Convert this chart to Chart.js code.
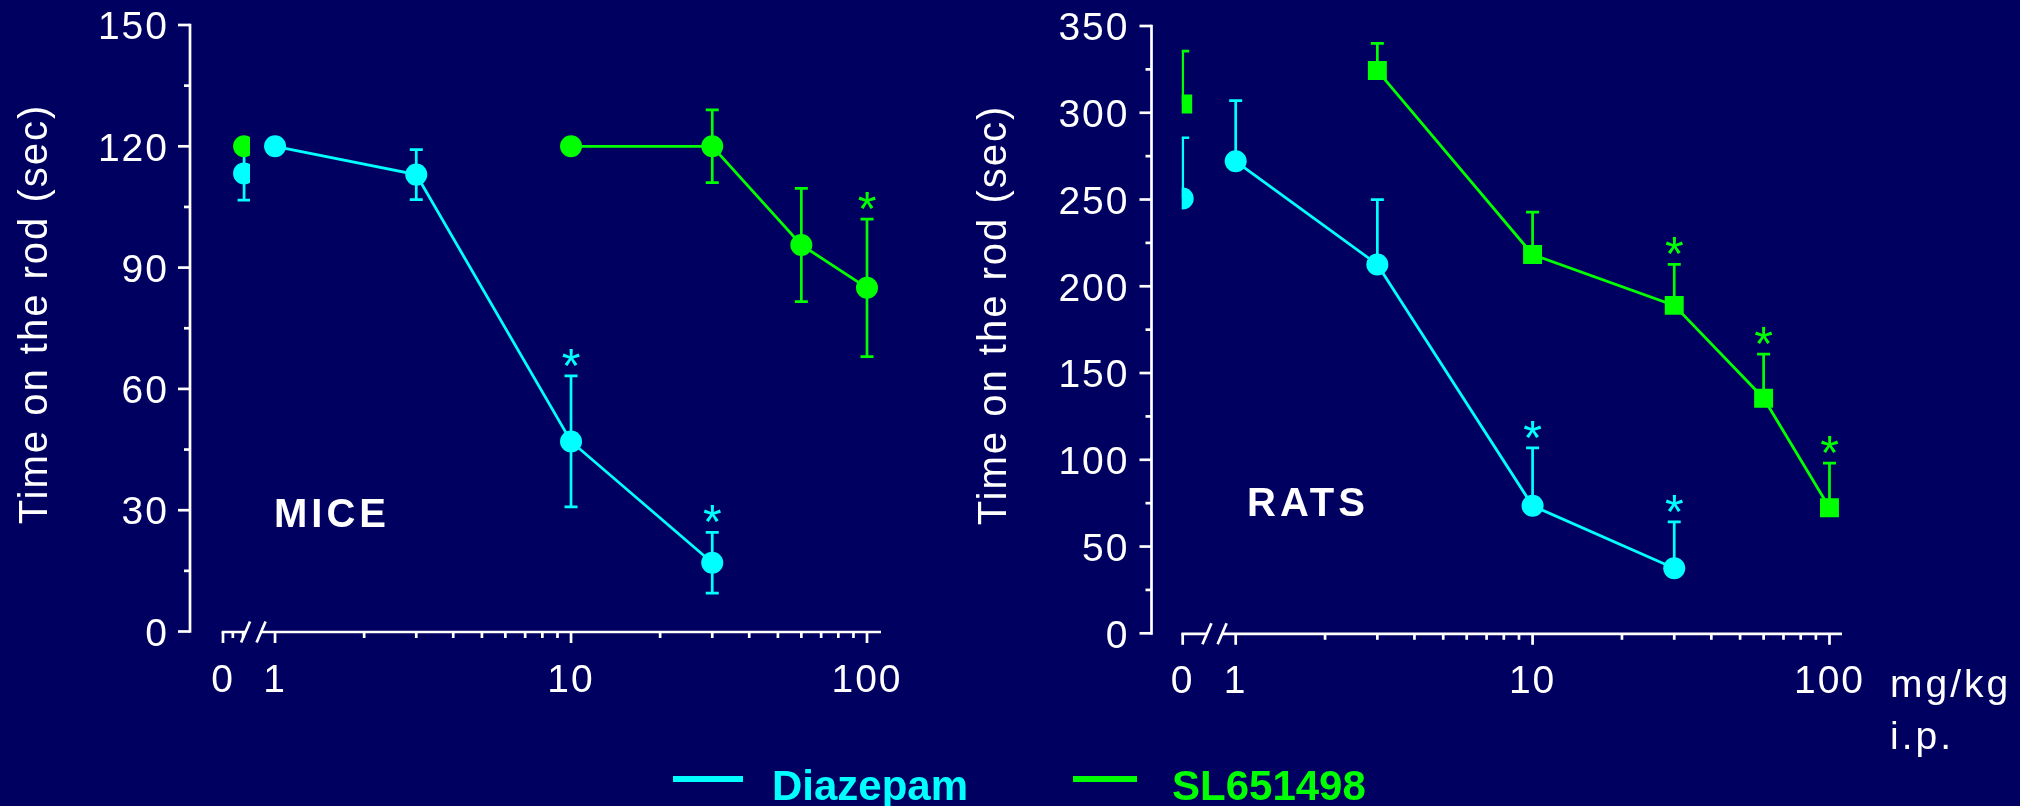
<!DOCTYPE html>
<html>
<head>
<meta charset="utf-8">
<script src="https://cdn.jsdelivr.net/npm/chart.js@4.4.0/dist/chart.umd.min.js"></script>
<style>
  html, body { margin: 0; padding: 0; background: #000060; width: 2020px; height: 806px; overflow: hidden; }
  canvas { position: absolute; top: 0; }
  #mice { left: 0; }
  #rats { left: 960px; }
</style>
</head>
<body>
<canvas id="mice" width="1000" height="806"></canvas>
<canvas id="rats" width="1060" height="806"></canvas>
<script>
// ---------------- DATA ----------------
const DOSES = [0, 1, 3, 10, 30, 60, 100];           // mg/kg i.p.
const X_TICK_LABELS = ['0', '1', '10', '100'];
const X_TICK_DOSES = [0, 1, 10, 100];
const X_MINOR_DOSES = [2, 3, 4, 5, 6, 7, 8, 9, 20, 30, 40, 50, 60, 70, 80, 90];
const MICE_Y_TICKS = [0, 30, 60, 90, 120, 150];
const RATS_Y_TICKS = [0, 50, 100, 150, 200, 250, 300, 350];

// MICE: mean and SEM (two-sided bars)
const MICE_DIAZEPAM     = [113.3, 120.0, 113.0, 47.0, 17.0, null, null];
const MICE_DIAZEPAM_SEM = [6.6, null, 6.2, 16.2, 7.5, null, null];
const MICE_DIAZEPAM_SIG = [0, 0, 0, 1, 1, 0, 0];
const MICE_SL           = [120.0, null, null, 120.0, 120.0, 95.6, 85.0];
const MICE_SL_SEM       = [null, null, null, null, 9.0, 14.0, 17.0];
const MICE_SL_SIG       = [0, 0, 0, 0, 0, 0, 1];

// RATS: mean and SEM (upper bars only)
const RATS_DIAZEPAM     = [250.6, 272.0, 212.6, 73.5, 37.5, null, null];
const RATS_DIAZEPAM_SEM = [35.0, 35.0, 37.3, 33.4, 26.7, null, null];
const RATS_DIAZEPAM_SIG = [0, 0, 0, 1, 1, 0, 0];
const RATS_SL           = [305.0, null, 324.3, 218.3, 189.0, 135.5, 72.4];
const RATS_SL_SEM       = [30.5, null, 15.7, 24.4, 23.6, 25.4, 25.7];
const RATS_SL_SIG       = [0, 0, 0, 0, 1, 1, 1];

const SERIES_NAMES = ['Diazepam', 'SL651498'];

// ---------------- STYLE ----------------
const FONT = "'Liberation Sans', Arial, Helvetica, sans-serif";
const CYAN = '#00ffff';
const GREEN = '#00ff00';
const WHITE = '#ffffff';
const AXW = 2.7;

function buildPoints(vals, zeroX) {
  const main = [], zero = [];
  DOSES.forEach((d, i) => {
    const v = vals[i];
    if (v === null || v === undefined) return;
    if (d === 0) zero.push({ x: zeroX, y: v });
    else main.push({ x: d, y: v });
  });
  return { main, zero };
}

function makeDecor(cfg) {
  const xv = d => (d === 0 ? cfg.zeroTick : d);
  const xp = d => (d === 0 ? cfg.zeroPoint : d);

  function applyZeroClip(chart) {
    const ctx = chart.ctx, xs = chart.scales.x;
    const l = cfg.zeroClip.min != null ? xs.getPixelForValue(cfg.zeroClip.min) : 0;
    const r = cfg.zeroClip.max != null ? xs.getPixelForValue(cfg.zeroClip.max) : chart.width;
    ctx.beginPath();
    ctx.rect(l, 0, r - l, chart.height);
    ctx.clip();
  }

  function drawAxes(chart) {
    const ctx = chart.ctx, xs = chart.scales.x, ys = chart.scales.y, a = chart.chartArea;
    ctx.save();
    ctx.strokeStyle = WHITE;
    ctx.lineWidth = AXW;
    ctx.lineCap = 'butt';
    ctx.beginPath();
    ctx.moveTo(a.left, a.top - AXW / 2);
    ctx.lineTo(a.left, a.bottom + AXW / 2);
    ctx.stroke();
    cfg.yTicks.forEach((v, i) => {
      const y = ys.getPixelForValue(v);
      ctx.beginPath(); ctx.moveTo(a.left - 12, y); ctx.lineTo(a.left, y); ctx.stroke();
      if (i < cfg.yTicks.length - 1) {
        const ym = ys.getPixelForValue((v + cfg.yTicks[i + 1]) / 2);
        ctx.beginPath(); ctx.moveTo(a.left - 6, ym); ctx.lineTo(a.left, ym); ctx.stroke();
      }
    });
    const yb = a.bottom + 0.5;
    const x0 = xs.getPixelForValue(cfg.zeroTick);
    const b1 = xs.getPixelForValue(cfg.breaks[0]);
    const b2 = xs.getPixelForValue(cfg.breaks[1]);
    ctx.beginPath();
    ctx.moveTo(x0 - AXW / 2, yb); ctx.lineTo(b1, yb);
    ctx.moveTo(b2, yb); ctx.lineTo(a.right, yb);
    ctx.stroke();
    [b1, b2].forEach(b => {
      ctx.beginPath(); ctx.moveTo(b - 4.5, yb + 10.5); ctx.lineTo(b + 4.5, yb - 10.5); ctx.stroke();
    });
    X_TICK_DOSES.forEach(d => {
      const x = xs.getPixelForValue(xv(d));
      ctx.beginPath(); ctx.moveTo(x, yb); ctx.lineTo(x, yb + 11); ctx.stroke();
    });
    X_MINOR_DOSES.concat(cfg.extraTicks).forEach(d => {
      const x = xs.getPixelForValue(d);
      ctx.beginPath(); ctx.moveTo(x, yb); ctx.lineTo(x, yb + 6); ctx.stroke();
    });
    ctx.restore();
  }

  function drawErrors(chart) {
    const ctx = chart.ctx, xs = chart.scales.x, ys = chart.scales.y;
    cfg.series.forEach(s => {
      DOSES.forEach((d, i) => {
        const v = s.vals[i], e = s.sem[i];
        if (v == null || e == null) return;
        ctx.save();
        if (d === 0) applyZeroClip(chart);
        ctx.strokeStyle = s.color;
        ctx.lineWidth = AXW;
        const x = xs.getPixelForValue(xp(d));
        const yt = ys.getPixelForValue(v + e);
        const yb = cfg.twoSided ? ys.getPixelForValue(v - e) : ys.getPixelForValue(v);
        ctx.beginPath();
        ctx.moveTo(x, yt); ctx.lineTo(x, yb);
        ctx.moveTo(x - 6.5, yt); ctx.lineTo(x + 6.5, yt);
        if (cfg.twoSided) { ctx.moveTo(x - 6.5, yb); ctx.lineTo(x + 6.5, yb); }
        ctx.stroke();
        ctx.restore();
      });
    });
  }

  function drawStars(chart) {
    const ctx = chart.ctx, xs = chart.scales.x, ys = chart.scales.y;
    ctx.save();
    ctx.letterSpacing = '0px';
    ctx.font = `48px ${FONT}`;
    ctx.textAlign = 'center';
    ctx.textBaseline = 'alphabetic';
    cfg.series.forEach(s => {
      DOSES.forEach((d, i) => {
        if (!s.sig[i]) return;
        const x = xs.getPixelForValue(xp(d));
        const yt = ys.getPixelForValue(s.vals[i] + (s.sem[i] || 0));
        ctx.fillStyle = s.color;
        ctx.fillText('*', x, yt + 6);
      });
    });
    ctx.restore();
  }

  function drawTexts(chart) {
    const ctx = chart.ctx;
    ctx.save();
    ctx.fillStyle = WHITE;
    ctx.font = `40px ${FONT}`;
    ctx.letterSpacing = '2px';
    ctx.textAlign = 'center';
    ctx.textBaseline = 'alphabetic';
    ctx.save();
    ctx.translate(cfg.yTitle.x, cfg.yTitle.y);
    ctx.rotate(-Math.PI / 2);
    ctx.fillText('Time on the rod (sec)', 0, 0);
    ctx.restore();
    ctx.font = `bold 40px ${FONT}`;
    ctx.letterSpacing = '4px';
    ctx.textAlign = 'left';
    ctx.fillText(cfg.label.text, cfg.label.x, cfg.label.y);
    if (cfg.unit) {
      ctx.font = `39px ${FONT}`;
      ctx.letterSpacing = '3px';
      cfg.unit.lines.forEach((t, k) => ctx.fillText(t, cfg.unit.x, cfg.unit.y + k * 52));
    }
    if (cfg.legend) {
      const L = cfg.legend;
      ctx.fillStyle = L.color;
      ctx.fillRect(L.x, L.y - 3, L.w, 6);
      ctx.font = `bold 42px ${FONT}`;
      ctx.letterSpacing = '0px';
      ctx.fillText(L.text, L.tx, L.ty);
    }
    ctx.restore();
  }

  return {
    id: 'decor',
    beforeDraw(chart) { chart.ctx.letterSpacing = '2px'; },
    beforeDatasetsDraw(chart) { drawAxes(chart); drawErrors(chart); },
    beforeDatasetDraw(chart, args) {
      const ds = chart.data.datasets[args.index];
      chart.ctx.save();
      if (ds.isZero) applyZeroClip(chart);
    },
    afterDatasetDraw(chart) { chart.ctx.restore(); },
    afterDatasetsDraw(chart) { drawStars(chart); },
    afterDraw(chart) { drawTexts(chart); }
  };
}

function makeChart(id, cfg) {
  const datasets = [];
  cfg.series.forEach(s => {
    const p = buildPoints(s.vals, cfg.zeroPoint);
    const common = {
      borderColor: s.color, backgroundColor: s.color,
      pointBackgroundColor: s.color, pointBorderColor: s.color, pointBorderWidth: 0,
      pointRadius: s.radius, pointHoverRadius: s.radius, pointStyle: s.style,
      borderWidth: 2.8
    };
    datasets.push(Object.assign({ label: s.name, data: p.main, showLine: true }, common));
    datasets.push(Object.assign({ label: s.name + ' 0', data: p.zero, showLine: false, clip: false, isZero: true }, common));
  });
  const tickVals = X_TICK_DOSES.map(d => (d === 0 ? cfg.zeroTick : d));
  return new Chart(document.getElementById(id), {
    type: 'scatter',
    data: { datasets },
    options: {
      responsive: false,
      animation: false,
      devicePixelRatio: 1,
      layout: { padding: { left: 0, top: cfg.area.top, right: cfg.padRight, bottom: 0 } },
      plugins: { legend: { display: false }, tooltip: { enabled: false } },
      events: [],
      scales: {
        x: {
          type: 'logarithmic', bounds: 'data',
          min: cfg.xMin, max: cfg.xMax,
          grid: { display: false, drawTicks: false }, border: { display: false },
          afterBuildTicks: sc => { sc.ticks = tickVals.map(v => ({ value: v })); },
          afterFit: sc => {
            sc.height = 806 - cfg.area.bottom;
            sc.paddingLeft = 0; sc.paddingRight = 0; sc.paddingTop = 0; sc.paddingBottom = 0;
          },
          ticks: {
            autoSkip: false, maxRotation: 0, minRotation: 0, padding: 26,
            color: WHITE, font: { family: FONT, size: 39 },
            callback: (v, i) => X_TICK_LABELS[i]
          }
        },
        y: {
          type: 'linear', min: 0, max: cfg.yTicks[cfg.yTicks.length - 1],
          grid: { display: false, drawTicks: false }, border: { display: false },
          afterBuildTicks: sc => { sc.ticks = cfg.yTicks.map(v => ({ value: v })); },
          afterFit: sc => {
            sc.width = cfg.area.left;
            sc.paddingLeft = 0; sc.paddingRight = 0; sc.paddingTop = 0; sc.paddingBottom = 0;
          },
          ticks: {
            padding: cfg.yLabelPad, labelOffset: 3.5,
            color: WHITE, font: { family: FONT, size: 39 },
            callback: v => String(v)
          }
        }
      }
    },
    plugins: [makeDecor(cfg)]
  });
}

makeChart('mice', {
  area: { left: 190, top: 25, bottom: 631.5 }, padRight: 1000 - 881,
  xMin: 0.516, xMax: 111.5,
  zeroTick: 0.667, zeroPoint: 0.786,
  zeroClip: { min: null, max: 0.823 },
  breaks: [0.795, 0.897], extraTicks: [0.72, 0.78],
  yTicks: MICE_Y_TICKS, yLabelPad: 21, twoSided: true,
  yTitle: { x: 47, y: 314 },
  label: { text: 'MICE', x: 274, y: 527 },
  legend: { color: CYAN, x: 673, y: 779, w: 70, text: SERIES_NAMES[0], tx: 772, ty: 800 },
  series: [
    { name: SERIES_NAMES[0], color: CYAN, vals: MICE_DIAZEPAM, sem: MICE_DIAZEPAM_SEM, sig: MICE_DIAZEPAM_SIG, style: 'circle', radius: 11 },
    { name: SERIES_NAMES[1], color: GREEN, vals: MICE_SL, sem: MICE_SL_SEM, sig: MICE_SL_SIG, style: 'circle', radius: 11 }
  ]
});

makeChart('rats', {
  area: { left: 191.5, top: 26, bottom: 633.3 }, padRight: 1060 - 882,
  xMin: 0.5205, xMax: 110.2,
  zeroTick: 0.663, zeroPoint: 0.663,
  zeroClip: { min: 0.658, max: null },
  breaks: [0.80, 0.90], extraTicks: [],
  yTicks: RATS_Y_TICKS, yLabelPad: 22, twoSided: false,
  yTitle: { x: 46, y: 315 },
  label: { text: 'RATS', x: 287, y: 516 },
  unit: { lines: ['mg/kg', 'i.p.'], x: 930, y: 697 },
  legend: { color: GREEN, x: 113, y: 779, w: 64, text: SERIES_NAMES[1], tx: 212, ty: 800 },
  series: [
    { name: SERIES_NAMES[0], color: CYAN, vals: RATS_DIAZEPAM, sem: RATS_DIAZEPAM_SEM, sig: RATS_DIAZEPAM_SIG, style: 'circle', radius: 11 },
    { name: SERIES_NAMES[1], color: GREEN, vals: RATS_SL, sem: RATS_SL_SEM, sig: RATS_SL_SIG, style: 'rect', radius: 13.4 }
  ]
});
</script>
</body>
</html>
